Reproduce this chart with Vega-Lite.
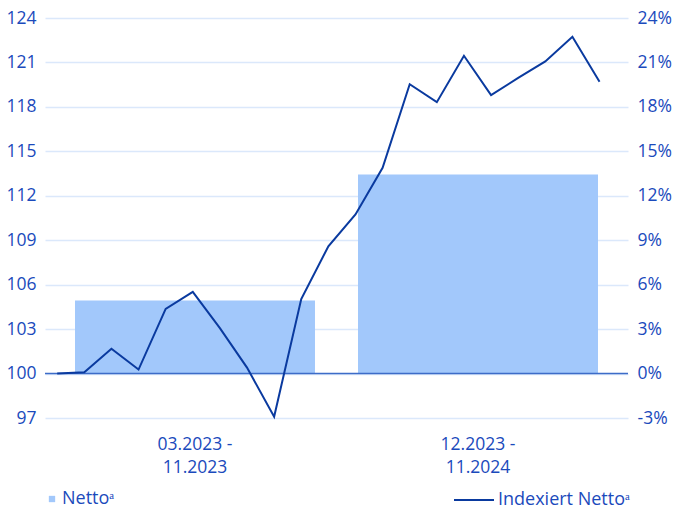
{
  "$schema": "https://vega.github.io/schema/vega-lite/v6.json",
  "autosize": "none",
  "width": 583,
  "height": 400,
  "padding": {"left": 45, "top": 18, "right": 53, "bottom": 94},
  "config": {
    "view": {"stroke": null},
    "font": "Open Sans",
    "axis": {"labelColor": "#1b4abc", "labelFont": "Open Sans", "labelFontSize": 17.5, "domain": false, "ticks": false, "title": null},
    "legend": {"labelColor": "#1b4abc", "labelFont": "Open Sans", "labelFontSize": 18, "padding": 0, "title": null}
  },
  "datasets": {
    "bars": [
      {"period": "03.2023 -|11.2023", "pct": 4.93, "series": "Nettoᵃ"},
      {"period": "12.2023 -|11.2024", "pct": 13.44, "series": "Nettoᵃ"}
    ],
    "line": [
      {"month": "03.2023", "i": 0, "index": 100.0},
      {"month": "04.2023", "i": 1, "index": 100.09},
      {"month": "05.2023", "i": 2, "index": 101.67},
      {"month": "06.2023", "i": 3, "index": 100.27},
      {"month": "07.2023", "i": 4, "index": 104.36},
      {"month": "08.2023", "i": 5, "index": 105.51},
      {"month": "09.2023", "i": 6, "index": 103.07},
      {"month": "10.2023", "i": 7, "index": 100.4},
      {"month": "11.2023", "i": 8, "index": 97.09},
      {"month": "12.2023", "i": 9, "index": 105.03},
      {"month": "01.2024", "i": 10, "index": 108.59},
      {"month": "02.2024", "i": 11, "index": 110.74},
      {"month": "03.2024", "i": 12, "index": 113.89},
      {"month": "04.2024", "i": 13, "index": 119.53},
      {"month": "05.2024", "i": 14, "index": 118.32},
      {"month": "06.2024", "i": 15, "index": 121.45},
      {"month": "07.2024", "i": 16, "index": 118.79},
      {"month": "08.2024", "i": 17, "index": 119.96},
      {"month": "09.2024", "i": 18, "index": 121.07},
      {"month": "10.2024", "i": 19, "index": 122.73},
      {"month": "11.2024", "i": 20, "index": 119.7}
    ],
    "base": [{"pct": 0}]
  },
  "layer": [
    {
      "layer": [
        {
          "data": {"name": "line"},
          "mark": {"type": "point", "opacity": 0},
          "encoding": {
            "y": {
              "field": "index", "type": "quantitative",
              "scale": {"domain": [97, 124], "nice": false, "zero": false},
              "axis": {"orient": "left", "values": [97, 100, 103, 106, 109, 112, 115, 118, 121, 124], "grid": true, "gridColor": "#dbe8fb", "gridWidth": 1.5, "labelPadding": 9}
            }
          }
        }
      ]
    },
    {
      "layer": [
        {
          "data": {"name": "bars"},
          "mark": {"type": "bar", "color": "#a2c8fb"},
          "encoding": {
            "x": {
              "field": "period", "type": "nominal", "sort": null,
              "scale": {"paddingInner": 0.152, "paddingOuter": 0.106},
              "axis": {"labelAngle": 0, "labelExpr": "split(datum.label, '|')", "labelPadding": 17, "labelLineHeight": 23, "labelBaseline": "top", "grid": false}
            },
            "y": {
              "field": "pct", "type": "quantitative",
              "scale": {"domain": [-3, 24], "nice": false},
              "axis": {"orient": "right", "values": [-3, 0, 3, 6, 9, 12, 15, 18, 21, 24], "labelExpr": "datum.value + '%'", "grid": false, "labelPadding": 9}
            },
            "fill": {
              "field": "series", "type": "nominal",
              "scale": {"range": ["#a2c8fb"]},
              "legend": {"orient": "none", "legendX": -2, "legendY": 472, "symbolType": "square", "symbolSize": 40, "labelOffset": 1}
            }
          }
        },
        {
          "data": {"name": "base"},
          "mark": {"type": "rule", "color": "#3d6cc8", "strokeWidth": 1.5},
          "encoding": {"y": {"field": "pct", "type": "quantitative"}}
        }
      ]
    },
    {
      "data": {"name": "line"},
      "transform": [{"calculate": "'Indexiert Nettoᵃ'", "as": "series"}],
      "mark": {"type": "line", "color": "#0a3a9f", "strokeWidth": 2},
      "encoding": {
        "x": {"field": "i", "type": "quantitative", "scale": {"domain": [-0.45, 21.05], "nice": false, "zero": false}, "axis": null},
        "y": {"field": "index", "type": "quantitative", "scale": {"domain": [97, 124], "nice": false, "zero": false}, "axis": null},
        "stroke": {
          "field": "series", "type": "nominal",
          "scale": {"range": ["#0a3a9f"]},
          "legend": {"orient": "none", "legendX": 408, "legendY": 461, "symbolType": "stroke", "symbolSize": 1600, "symbolStrokeWidth": 2, "labelOffset": 3}
        }
      }
    }
  ],
  "resolve": {"scale": {"x": "independent", "y": "independent", "fill": "independent", "stroke": "independent"}}
}
